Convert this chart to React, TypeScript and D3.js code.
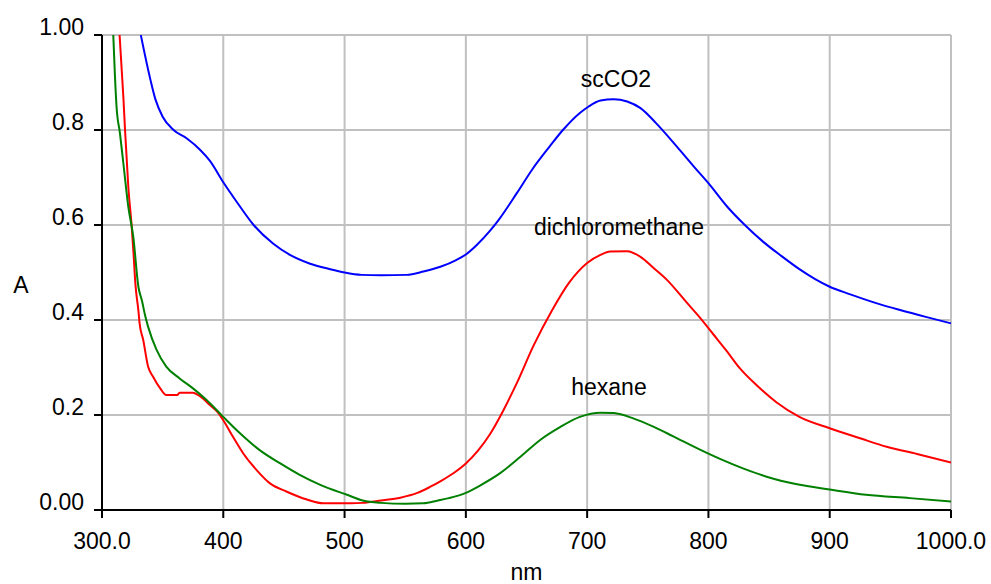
import React from "react";
import * as d3 from "d3";

const xTicks = [300, 400, 500, 600, 700, 800, 900, 1000];
const xTickLabels = ["300.0", "400", "500", "600", "700", "800", "900", "1000.0"];
const yTicks = [0, 0.2, 0.4, 0.6, 0.8, 1.0];
const yTickLabels = ["0.00", "0.2", "0.4", "0.6", "0.8", "1.00"];

const scco2Nm = [332, 340, 344, 350, 359, 370, 381, 389, 400, 411, 425, 441, 455, 471, 488, 500, 514, 530, 551, 565, 579, 592, 600, 609, 620, 628, 642, 655, 669, 680, 694, 701, 711, 722, 733, 744, 757, 774, 788, 800, 815, 830, 845, 860, 875, 888, 900, 917, 939, 958, 980, 1000];
const scco2A = [1.0, 0.905, 0.865, 0.828, 0.8, 0.782, 0.758, 0.735, 0.69, 0.649, 0.6, 0.561, 0.537, 0.519, 0.507, 0.5, 0.495, 0.494, 0.495, 0.502, 0.512, 0.526, 0.538, 0.558, 0.588, 0.614, 0.667, 0.718, 0.765, 0.8, 0.836, 0.849, 0.862, 0.865, 0.86, 0.846, 0.814, 0.765, 0.723, 0.688, 0.64, 0.6, 0.565, 0.535, 0.507, 0.486, 0.47, 0.454, 0.435, 0.421, 0.406, 0.393];

const dcmNm = [314.5, 317.6, 319, 321.7, 324.5, 326, 327.5, 330, 331, 334, 338, 342, 348, 353, 362, 364, 375, 381, 389, 396, 400, 408, 416.5, 427.5, 438.5, 452, 469, 482.5, 505, 515, 530, 546, 560, 570, 580, 590, 600, 610, 620, 631, 642, 656, 671, 685, 700, 711, 719, 733, 744, 755, 766, 782, 793, 804, 815, 826, 840, 856, 875, 900, 925, 947, 972, 1000];
const dcmA = [1.0, 0.87, 0.8, 0.68, 0.596, 0.54, 0.477, 0.42, 0.393, 0.358, 0.302, 0.281, 0.256, 0.242, 0.242, 0.247, 0.247, 0.239, 0.221, 0.204, 0.189, 0.154, 0.119, 0.084, 0.056, 0.039, 0.022, 0.014, 0.014, 0.015, 0.02, 0.026, 0.036, 0.048, 0.062, 0.078, 0.098, 0.125, 0.16, 0.21, 0.267, 0.347, 0.42, 0.478, 0.52, 0.537, 0.544, 0.545, 0.533, 0.509, 0.484, 0.437, 0.405, 0.37, 0.335, 0.298, 0.262, 0.227, 0.196, 0.172, 0.151, 0.133, 0.118, 0.1];

const hexNm = [309.3, 310.7, 312, 314.8, 317.6, 321.7, 325.8, 330, 333, 335.5, 338, 345, 353, 364, 375, 386, 400, 414, 430, 447, 463, 480, 502, 515, 530, 550, 565, 577, 586, 600, 612, 628, 645, 661, 678, 694, 711, 722, 738, 755, 771, 793, 810, 829, 848, 873, 900, 930, 966, 1000];
const hexA = [1.0, 0.912, 0.849, 0.793, 0.73, 0.638, 0.575, 0.47, 0.44, 0.41, 0.386, 0.337, 0.302, 0.277, 0.256, 0.232, 0.196, 0.161, 0.126, 0.098, 0.074, 0.053, 0.032, 0.02, 0.015, 0.013, 0.014, 0.02, 0.025, 0.036, 0.052, 0.077, 0.112, 0.147, 0.175, 0.196, 0.205, 0.204, 0.193, 0.175, 0.155, 0.127, 0.107, 0.087, 0.07, 0.054, 0.043, 0.032, 0.025, 0.018];

const seriesNames = ["scCO2", "dichloromethane", "hexane"];
const seriesColors = ["#0000ff", "#ff0000", "#008000"];
const labelNm = [723.8, 726.2, 718];
const labelA = [0.89, 0.579, 0.242];

const W = 991;
const H = 584;
const FONT = "'Liberation Sans', Arial, sans-serif";

export default function App() {
  const x = d3.scaleLinear().domain([300, 1000]).range([102, 951]);
  const y = d3.scaleLinear().domain([0, 1]).range([510, 35]);
  const line = d3
    .line<[number, number]>()
    .x((d) => x(d[0]))
    .y((d) => y(d[1]))
    .curve(d3.curveMonotoneX);

  const series = [
    { nm: scco2Nm, a: scco2A },
    { nm: dcmNm, a: dcmA },
    { nm: hexNm, a: hexA },
  ];

  return (
    <svg
      width={W}
      height={H}
      style={{ position: "absolute", left: 0, top: 0, background: "#fff" }}
      fontFamily={FONT}
    >
      <defs>
        <clipPath id="plot">
          <rect x={x(300)} y={y(1)} width={x(1000) - x(300)} height={y(0) - y(1)} />
        </clipPath>
      </defs>
      {xTicks.slice(1).map((t) => (
        <line key={"gx" + t} x1={x(t)} x2={x(t)} y1={y(0)} y2={y(1)} stroke="#c0c0c0" strokeWidth={2} />
      ))}
      {yTicks.slice(1).map((t) => (
        <line key={"gy" + t} x1={x(300)} x2={x(1000)} y1={y(t)} y2={y(t)} stroke="#c0c0c0" strokeWidth={2} />
      ))}
      <g clipPath="url(#plot)">
        {series.map((s, i) => (
          <path
            key={i}
            d={line(s.nm.map((v, j) => [v, s.a[j]] as [number, number])) || ""}
            fill="none"
            stroke={seriesColors[i]}
            strokeWidth={2}
          />
        ))}
      </g>
      <line x1={x(300)} x2={x(300)} y1={y(1)} y2={y(0)} stroke="#000" strokeWidth={2} />
      <line x1={x(300)} x2={x(1000)} y1={y(0)} y2={y(0)} stroke="#000" strokeWidth={2} />
      {yTicks.map((t, i) => (
        <g key={"yt" + t}>
          <line x1={x(300) - 8} x2={x(300)} y1={y(t)} y2={y(t)} stroke="#000" strokeWidth={2} />
          <text x={84} y={y(t)} textAnchor="end" fontSize={23} fill="#000">
            {yTickLabels[i]}
          </text>
        </g>
      ))}
      {xTicks.map((t, i) => (
        <g key={"xt" + t}>
          <line x1={x(t)} x2={x(t)} y1={y(0)} y2={y(0) + 8} stroke="#000" strokeWidth={2} />
          <text x={x(t)} y={549} textAnchor="middle" fontSize={23} fill="#000">
            {xTickLabels[i]}
          </text>
        </g>
      ))}
      <text x={21} y={293} textAnchor="middle" fontSize={23} fill="#000">A</text>
      <text x={(x(300) + x(1000)) / 2} y={580} textAnchor="middle" fontSize={23} fill="#000">nm</text>
      {seriesNames.map((n, i) => (
        <text key={n} x={x(labelNm[i])} y={y(labelA[i])} textAnchor="middle" fontSize={23} fill="#000">
          {n}
        </text>
      ))}
    </svg>
  );
}
